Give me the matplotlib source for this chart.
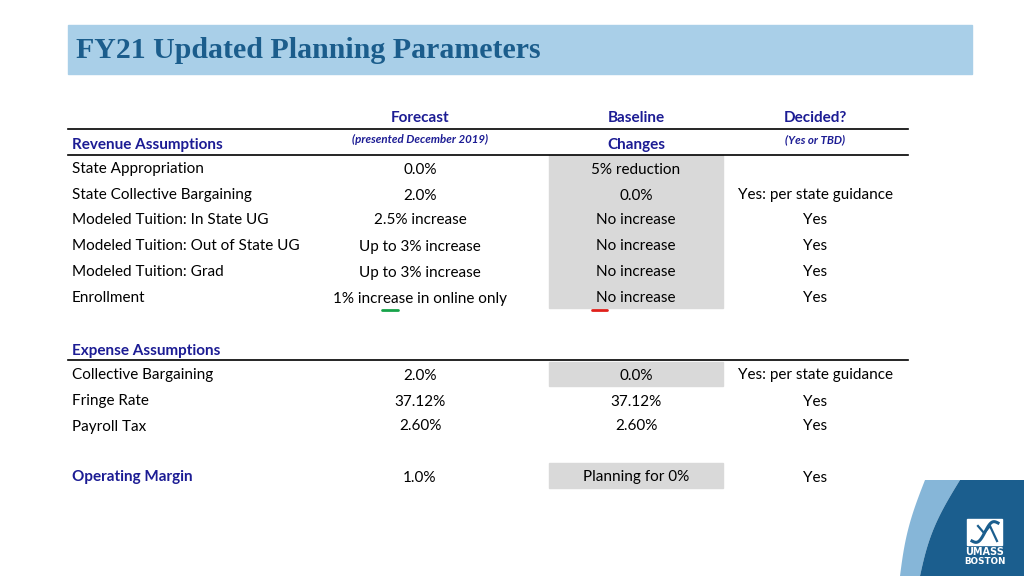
import numpy as np
import matplotlib.pyplot as plt
from matplotlib.patches import Rectangle, Polygon

# table content
revenue_items = ['State Appropriation', 'State Collective Bargaining', 'Modeled Tuition: In State UG',
                 'Modeled Tuition: Out of State UG', 'Modeled Tuition: Grad', 'Enrollment']
revenue_forecast = ['0.0%', '2.0%', '2.5% increase', 'Up to 3% increase', 'Up to 3% increase',
                    '1% increase in online only']
revenue_baseline = ['5% reduction', '0.0%', 'No increase', 'No increase', 'No increase', 'No increase']
revenue_decided = ['', 'Yes: per state guidance', 'Yes', 'Yes', 'Yes', 'Yes']

expense_items = ['Collective Bargaining', 'Fringe Rate', 'Payroll Tax']
expense_forecast = ['2.0%', '37.12%', '2.60%']
expense_baseline = ['0.0%', '37.12%', '2.60%']
expense_decided = ['Yes: per state guidance', 'Yes', 'Yes']

margin_row = ['Operating Margin', '1.0%', 'Planning for 0%', 'Yes']

NAVY = '#1c1c94'
GRAY = '#d9d9d9'
FONT = 'Lato'
FS = 11
BASE = 5.5  # baseline offset below the row centre

fig = plt.figure(figsize=(10.24, 5.76), dpi=100)
ax = fig.add_axes([0, 0, 1, 1])
ax.set_xlim(0, 1024)
ax.set_ylim(576, 0)
ax.axis('off')

# title bar
ax.add_patch(Rectangle((68, 25), 904, 49, color='#a9cfe8', zorder=0))
ax.text(76, 50, 'FY21 Updated Planning Parameters', family=['Liberation Serif', 'DejaVu Serif'],
        fontsize=21.5, fontweight='bold', color='#1b5d8c', va='center', ha='left')

col_x = [72, 420, 636, 815]


def txt(x, y, s, ha='center', **kw):
    fs = kw.pop('fontsize', FS)
    ax.text(x, y + BASE * fs / FS, s, family=FONT, fontsize=fs, ha=ha, va='baseline', **kw)


# headers
txt(col_x[1], 117, 'Forecast', fontweight='bold', color=NAVY)
txt(col_x[1], 139, '(presented December 2019)', fontsize=8.3, fontweight='bold', style='italic', color=NAVY)
txt(col_x[2], 117, 'Baseline', fontweight='bold', color=NAVY)
txt(col_x[2], 143, 'Changes', fontweight='bold', color=NAVY)
txt(col_x[3], 117, 'Decided?', fontweight='bold', color=NAVY)
txt(col_x[3], 139, '(Yes or TBD)', fontsize=8.3, fontweight='bold', style='italic', color=NAVY)
txt(col_x[0], 143, 'Revenue Assumptions', ha='left', fontweight='bold', color=NAVY)

for y in (129, 155, 360):
    ax.plot([68, 908], [y, y], color='black', lw=1.2)

# gray shading in baseline column
ax.add_patch(Rectangle((549, 155), 174, 153, color=GRAY, zorder=0))
ax.add_patch(Rectangle((549, 362), 174, 24, color=GRAY, zorder=0))
ax.add_patch(Rectangle((549, 463), 174, 25, color=GRAY, zorder=0))


def draw_rows(ys, items, fc, bl, dec):
    for y, a, b, c, d in zip(ys, items, fc, bl, dec):
        txt(col_x[0], y, a, ha='left')
        txt(col_x[1], y, b)
        txt(col_x[2], y, c)
        txt(col_x[3], y, d)


draw_rows([168, 194, 219, 245, 271, 297], revenue_items, revenue_forecast, revenue_baseline, revenue_decided)

txt(col_x[0], 349, 'Expense Assumptions', ha='left', fontweight='bold', color=NAVY)
draw_rows([374, 400, 425], expense_items, expense_forecast, expense_baseline, expense_decided)

txt(col_x[0], 476, margin_row[0], ha='left', fontweight='bold', color=NAVY)
for x, t in zip(col_x[1:], margin_row[1:]):
    txt(x, 476, t)

# proofing marks
ax.plot([382, 398], [310, 310], color='#17a34a', lw=2, solid_capstyle='round')
ax.plot([592, 607], [310, 310], color='#e0201b', lw=2, solid_capstyle='round')

# logo corner
t = np.linspace(0, 1, 30)
edge_dark = np.column_stack([960 - 40 * t - 6 * np.sin(np.pi * t), 480 + 96 * t])
edge_light = np.column_stack([925 - 25 * t - 4 * np.sin(np.pi * t), 480 + 96 * t])
ax.add_patch(Polygon(np.vstack([edge_light, edge_dark[::-1]]), color='#86b6d8', zorder=1, lw=0))
ax.add_patch(Polygon(np.vstack([edge_dark, [[1024, 576], [1024, 480]]]), color='#1b5e8e', zorder=1, lw=0))
ax.add_patch(Rectangle((967, 519), 35, 26, color='white', zorder=2))
s = np.linspace(0, 1, 40)
ax.plot(972 + 26 * s, 541 - 18 * s + 5 * np.sin(2 * np.pi * s), color='#1b5e8e', lw=2.2, zorder=3)
ax.plot([978, 984, 990, 997], [526, 533, 526, 541], color='#1b5e8e', lw=1.6, zorder=3)
ax.text(985, 552, 'UMASS', family='DejaVu Sans', fontsize=7, fontweight='bold', color='white',
        ha='center', va='center', zorder=3)
ax.text(985, 562, 'BOSTON', family='DejaVu Sans', fontsize=6.3, fontweight='bold', color='white',
        ha='center', va='center', zorder=3)

fig.savefig('out.png', dpi=100, facecolor='white')
